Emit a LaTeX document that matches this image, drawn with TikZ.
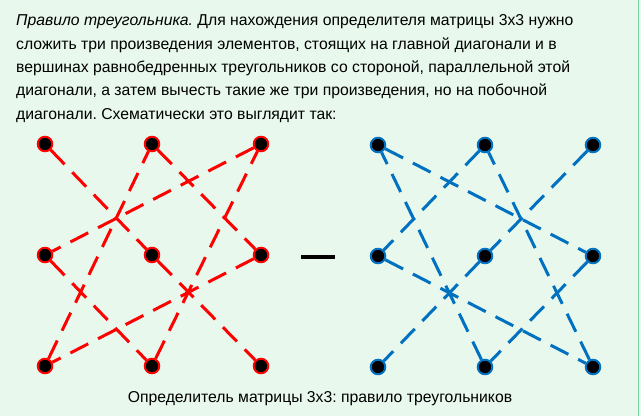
\documentclass[tikz,border=0pt]{standalone}
\usepackage{fontspec}
\setmainfont{Liberation Sans}
\usepackage{xcolor}
\frenchspacing

\definecolor{bggreen}{RGB}{232,248,237}
\definecolor{edgegreen}{RGB}{120,212,160}
\definecolor{dotred}{RGB}{255,0,0}
\definecolor{dotblue}{RGB}{0,112,192}

\tikzset{
  reddot/.style={circle, fill=black, draw=dotred, line width=2pt, inner sep=0pt, minimum size=14.5pt},
  bluedot/.style={circle, fill=black, draw=dotblue, line width=2pt, inner sep=0pt, minimum size=14.5pt},
  redline/.style={draw=dotred, line width=3pt, dash pattern=on 20pt off 11pt},
  blueline/.style={draw=dotblue, line width=3pt, dash pattern=on 20pt off 11pt}
}

\begin{document}
\begin{tikzpicture}[x=1pt, y=-1pt, every node/.style={font=\fontsize{15.75}{23.3}\selectfont}]
        \fill[bggreen] (0,0) rectangle (641,416);
        \useasboundingbox (0,0) rectangle (641,416);
        \draw[edgegreen, line width=1pt] (638.5,0) -- (638.5,416);

        \node (intro) [anchor=north west, align=left, inner sep=0pt] at (16,14.6)
          {\textit{Правило треугольника.} Для нахождения определителя матрицы 3x3 нужно\\
           сложить три произведения элементов, стоящих на главной диагонали и в\\
           вершинах равнобедренных треугольников со стороной, параллельной этой\\
           диагонали, а затем вычесть такие же три произведения, но на побочной\\
           диагонали. Схематически это выглядит так:};

        % left matrix
        \node (r11) [reddot] at (45,144) {};
        \node (r12) [reddot] at (152,144) {};
        \node (r13) [reddot] at (261,144) {};
        \node (r21) [reddot] at (45,255) {};
        \node (r22) [reddot] at (152,255) {};
        \node (r23) [reddot] at (261,255) {};
        \node (r31) [reddot] at (45,366) {};
        \node (r32) [reddot] at (152,366) {};
        \node (r33) [reddot] at (261,366) {};

        \node (minus) [fill=black, inner sep=0pt, minimum width=34pt, minimum height=4pt] at (318,257) {};

        % right matrix
        \node (b11) [bluedot] at (378,145) {};
        \node (b12) [bluedot] at (485,145) {};
        \node (b13) [bluedot] at (593,145) {};
        \node (b21) [bluedot] at (378,256) {};
        \node (b22) [bluedot] at (485,256) {};
        \node (b23) [bluedot] at (593,256) {};
        \node (b31) [bluedot] at (378,367) {};
        \node (b32) [bluedot] at (485,367) {};
        \node (b33) [bluedot] at (593,367) {};

        \node (caption) [anchor=base] at (320,402.5) {Определитель матрицы 3x3: правило треугольников};

        \draw[redline] (r11) -- (r22) -- (r33);
        \draw[redline] (r12) -- (r23);
        \draw[redline] (r23) -- (r31);
        \draw[redline] (r31) -- (r12);
        \draw[redline] (r13) -- (r21);
        \draw[redline] (r21) -- (r32);
        \draw[redline] (r32) -- (r13);

        \draw[blueline] (b13) -- (b22) -- (b31);
        \draw[blueline] (b11) -- (b23);
        \draw[blueline] (b23) -- (b32);
        \draw[blueline] (b32) -- (b11);
        \draw[blueline] (b12) -- (b21);
        \draw[blueline] (b21) -- (b33);
        \draw[blueline] (b33) -- (b12);
    \end{tikzpicture}
\end{document}
